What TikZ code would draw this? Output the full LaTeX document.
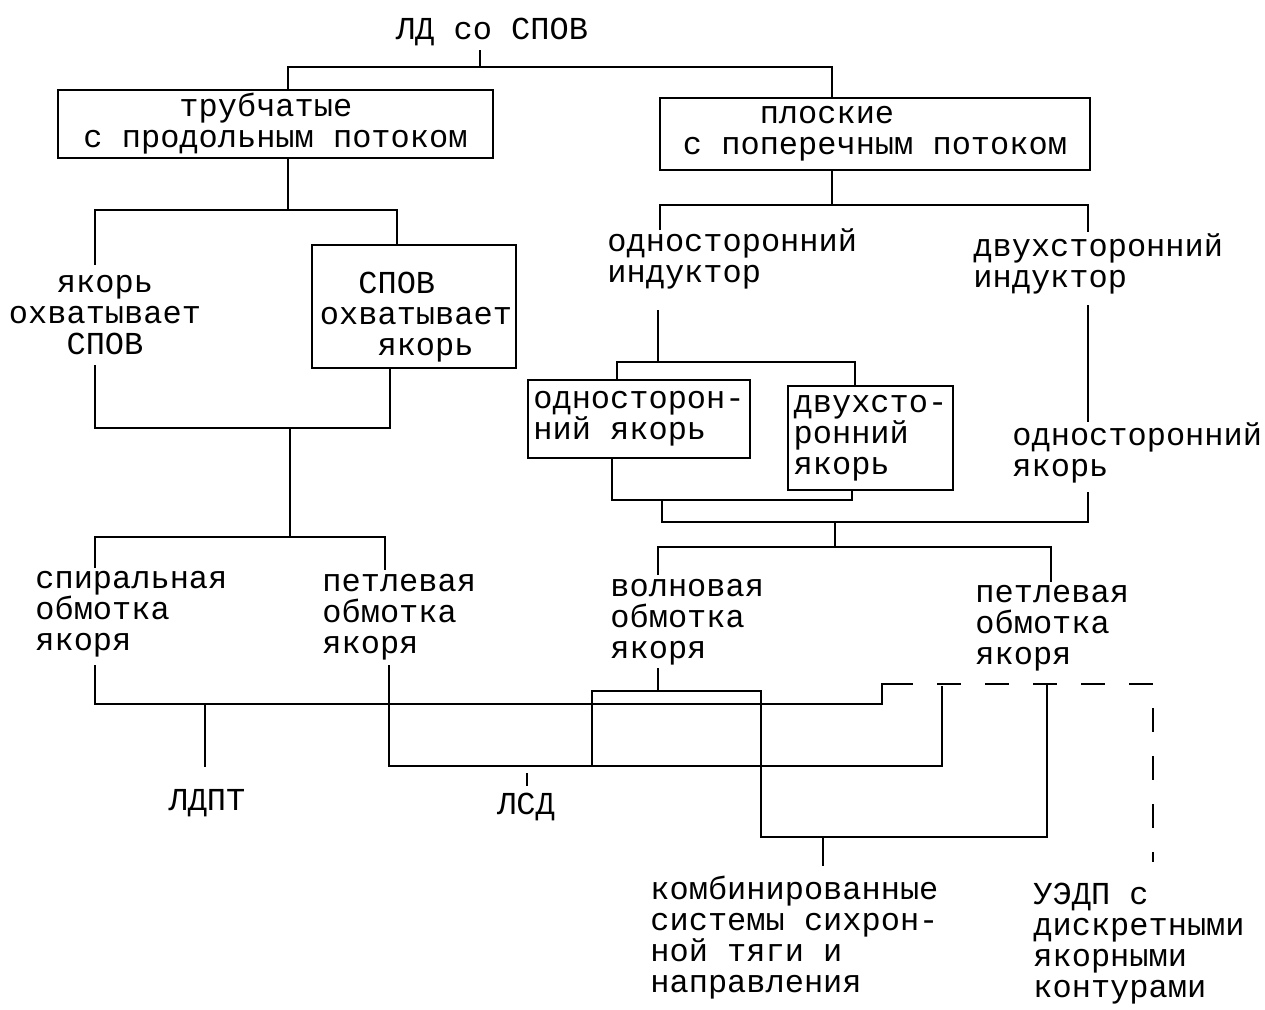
\documentclass[tikz,border=0pt]{standalone}
\usepackage{fontspec}
\setmainfont{Liberation Mono}
\newfontfamily\tw{Liberation Mono}
\begin{document}
\begin{tikzpicture}[x=0.5pt,y=-0.5pt,
  txt/.style={font=\tw\fontsize{16pt}{15.5pt}\selectfont, inner sep=0pt, align=left},
  lbl/.style={txt, anchor=west},
  boxnode/.style={txt, draw, line width=1.3pt},
  ln/.style={line width=1.1pt},
  dsh/.style={line width=1.1pt, dash pattern=on 12pt off 12pt, dash phase=11.5pt}]
\useasboundingbox (0,0) rectangle (1265,1009);

% ---------- nodes ----------
\node[txt, align=center] (title) at (492,32) {ЛД со СПОВ};
\node[boxnode, minimum width=217.5pt, minimum height=34pt] (tube) at (275.5,124)
  {\hspace*{3em}трубчатые\\с продольным потоком};
\node[boxnode, minimum width=215pt, minimum height=36pt] (flat) at (875,134)
  {\hspace*{2.4em}плоские\\с поперечным потоком};
\node[txt, align=center] (yo) at (105,315) {якорь\\охватывает\\СПОВ};
\node[boxnode, minimum width=102pt, minimum height=61.5pt] (spov) at (414,306.5) {};
\node[txt] (spovtxt) at (416,317)
  {\hspace*{1.2em}СПОВ\\охватывает\\\hspace*{1.8em}якорь};
\node[lbl] (ind1) at (607,259) {односторонний\\индуктор};
\node[lbl] (ind2) at (973,264) {двухсторонний\\индуктор};
\node[boxnode, minimum width=111pt, minimum height=39pt] (arm1) at (639,419)
  {односторон-\\ний якорь};
\node[boxnode, minimum width=82.5pt, minimum height=52pt] (arm2) at (870.5,438)
  {двухсто-\\ронний\\якорь};
\node[lbl] (ya) at (1012,453) {односторонний\\якорь};
\node[lbl] (spir) at (35,614) {спиральная\\обмотка\\якоря};
\node[lbl] (lp1) at (322,617) {петлевая\\обмотка\\якоря};
\node[lbl] (wv) at (610,622) {волновая\\обмотка\\якоря};
\node[lbl] (lp2) at (975,628) {петлевая\\обмотка\\якоря};
\node[txt] (ldpt) at (207,803) {ЛДПТ};
\node[txt] (lsd) at (526,807) {ЛСД};
\node[lbl] (comb) at (650,938) {комбинированные\\системы сихрон-\\ной тяги и\\направления};
\node[lbl] (uedp) at (1033,944) {УЭДП с\\дискретными\\якорными\\контурами};

% ---------- top ----------
\coordinate (t0) at (480,50);
\coordinate (t1) at (480,67);
\draw[ln] (t0) -- (t1);
\draw[ln] (tube.north -| 288,0) |- (t1) -| (flat.north -| 832,0);

% ---------- left subtree ----------
\coordinate (j1) at (288,210);
\coordinate (yoT) at (95,265);
\coordinate (yoB) at (95,365);
\draw[ln] (tube.south -| j1) -- (j1);
\draw[ln] (yoT) |- (j1) -| (spov.north -| 397,0);
\coordinate (j2) at (290,428);
\draw[ln] (yoB) |- (j2) -| (spov.south -| 390,0);
\coordinate (j3) at (290,537);
\draw[ln] (j2) -- (j3);
\coordinate (spT) at (95,568);
\coordinate (lp1T) at (385,570);
\draw[ln] (spT) |- (j3) -| (lp1T);

% ---------- right subtree ----------
\coordinate (j4) at (832,205);
\draw[ln] (flat.south -| j4) -- (j4);
\coordinate (i1T) at (660,230);
\coordinate (i2T) at (1088,232);
\draw[ln] (i1T) |- (j4) -| (i2T);
\coordinate (i1B) at (658,310);
\coordinate (j5) at (658,362);
\draw[ln] (i1B) -- (j5);
\draw[ln] (arm1.north -| 617,0) |- (j5) -| (arm2.north -| 855,0);
\coordinate (j6) at (662,500);
\draw[ln] (arm1.south -| 612,0) |- (j6) -| (arm2.south -| 852,0);
\coordinate (j7) at (835,522);
\coordinate (yaB) at (1088,492);
\draw[ln] (j6) |- (j7) -| (yaB);
\coordinate (i2B) at (1088,305);
\coordinate (yaT) at (1088,422);
\draw[ln] (i2B) -- (yaT);
\coordinate (j8) at (835,547);
\draw[ln] (j7) -- (j8);
\coordinate (wvT) at (658,575);
\coordinate (lp2T) at (1051,582);
\draw[ln] (wvT) |- (j8) -| (lp2T);

% ---------- bottom network ----------
\coordinate (spB) at (95,665);
\coordinate (a1) at (882,704);
\coordinate (a2) at (912,684);
\coordinate (a3) at (1153,684);
\coordinate (uT) at (1153,862);
\draw[ln] (spB) |- (a1) |- (a2);
\draw[dsh] (a2) -- (a3) -- (uT);
\coordinate (ldT) at (205,767);
\draw[ln] (ldT |- a1) -- (ldT);
\coordinate (lp1B) at (389,665);
\coordinate (b1) at (942,766);
\coordinate (b2) at (942,686);
\draw[ln] (lp1B) |- (b1) -- (b2);
\coordinate (lsA) at (527,773);
\coordinate (lsT) at (527,786);
\draw[ln] (lsA) -- (lsT);
\coordinate (wvB) at (658,668);
\coordinate (w1) at (658,691);
\draw[ln] (wvB) -- (w1);
\coordinate (w0) at (592,766);
\coordinate (w2) at (761,691);
\coordinate (c0) at (761,837);
\coordinate (c2) at (1047,837);
\coordinate (lp2B) at (1047,684);
\draw[ln] (w0) |- (w2) -- (c0) -- (c2) -- (lp2B);
\coordinate (c1) at (823,837);
\coordinate (cT) at (823,866);
\draw[ln] (c1) -- (cT);
\end{tikzpicture}
\end{document}
